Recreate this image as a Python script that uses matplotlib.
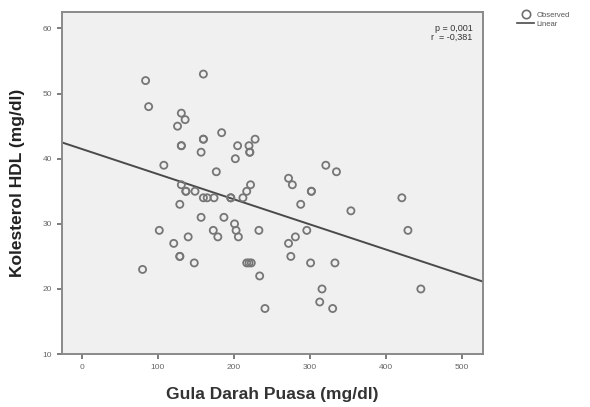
import matplotlib
matplotlib.use("Agg")
from matplotlib import pyplot as plt
from matplotlib.lines import Line2D
import numpy as np

plt.rcParams['font.family'] = ['Liberation Sans', 'DejaVu Sans']

# data
gula_darah = [84, 88, 160, 131, 136, 126, 131, 131, 160, 160, 157, 184, 205, 202,
              221, 221, 228, 220, 108, 177, 272, 277, 321, 335, 131, 137, 137, 149,
              160, 165, 174, 196, 196, 212, 217, 222, 302, 302, 288, 354, 421, 129,
              157, 187, 201, 203, 206, 102, 173, 179, 233, 296, 429, 281, 272, 121,
              140, 129, 129, 275, 148, 217, 220, 223, 301, 333, 80, 234, 241, 316,
              313, 330, 446]
hdl = [52, 48, 53, 47, 46, 45, 42, 42, 43, 43, 41, 44, 42, 40,
       41, 41, 43, 42, 39, 38, 37, 36, 39, 38, 36, 35, 35, 35,
       34, 34, 34, 34, 34, 34, 35, 36, 35, 35, 33, 32, 34, 33,
       31, 31, 30, 29, 28, 29, 29, 28, 29, 29, 29, 28, 27, 27,
       28, 25, 25, 25, 24, 24, 24, 24, 24, 24, 23, 22, 17, 20,
       18, 17, 20]

# fit line
intercept = 41.5
slope = -0.0386
stats_text = "p = 0,001\nr  = -0,381"

x_ticks = [0, 100, 200, 300, 400, 500]
y_ticks = [10, 20, 30, 40, 50, 60]

fig = plt.figure(figsize=(5.9, 4.07), dpi=100)
ax = fig.add_axes([0.105, 0.13, 0.714, 0.84])
ax.set_facecolor('#f0f0f0')

ax.scatter(gula_darah, hdl, s=26, facecolors='none', edgecolors='#767676', linewidths=1.3, zorder=3)

xl = np.array([-26, 528])
ax.plot(xl, intercept + slope * xl, color='#4a4a4a', linewidth=1.4, zorder=2)

ax.set_xlim(-26, 528)
ax.set_ylim(10, 62.5)
ax.set_xticks(x_ticks)
ax.set_yticks(y_ticks)
ax.tick_params(labelsize=6, colors='#666666', length=3.5, width=1.2, direction='out')
for s in ax.spines.values():
    s.set_color('#8a8a8a')
    s.set_linewidth(1.4)

ax.set_xlabel('Gula Darah Puasa (mg/dl)', fontsize=12.5, color='#333333', fontweight='bold', labelpad=12)
ax.set_ylabel('Kolesterol HDL (mg/dl)', fontsize=12.5, color='#222222', fontweight='bold', labelpad=13)

ax.text(0.975, 0.965, stats_text, transform=ax.transAxes, ha='right', va='top',
        fontsize=6.5, color='#333333', linespacing=0.95)

handles = [Line2D([], [], marker='o', linestyle='none', markerfacecolor='none',
                  markeredgecolor='#6e6e6e', markeredgewidth=1.2, markersize=6),
           Line2D([], [], color='#4a4a4a', linewidth=1.2)]
fig.legend(handles, ['Observed', 'Linear'], loc='upper left', bbox_to_anchor=(0.868, 0.985),
           frameon=False, fontsize=5.5, handlelength=2.2, handletextpad=0.3,
           labelspacing=0.25, borderpad=0.2, labelcolor='#555555')

plt.savefig('out.png', dpi=100)
plt.close()
